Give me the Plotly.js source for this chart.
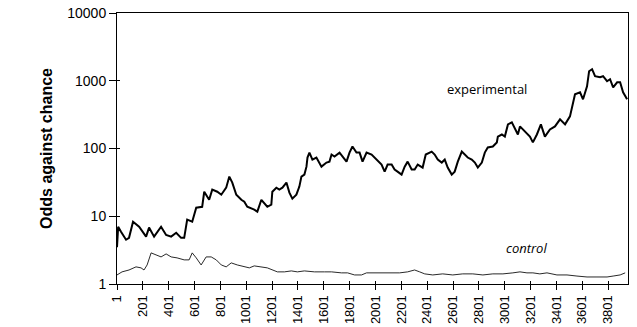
<!DOCTYPE html>
<html>
<head>
<meta charset="utf-8">
<script src="https://cdn.plot.ly/plotly-3.0.1.min.js"></script>
<style>html,body{margin:0;padding:0;background:#fff;}#chart{width:637px;height:327px;}</style>
</head>
<body>
<div id="chart"></div>
<script>
// Experimental series: trial number and odds against chance
const expTrials = [1,10,32,71,94,125,172,226,249,288,342,381,420,459,497,521,544,583,614,660,676,714,738,777,808,846,870,893,924,963,986,1009,1063,1087,1118,1141,1164,1195,1203,1234,1257,1281,1312,1335,1358,1389,1412,1428,1451,1467,1475,1490,1513,1544,1583,1622,1645,1661,1684,1723,1746,1777,1800,1823,1854,1878,1901,1932,1971,2010,2048,2072,2095,2126,2149,2172,2203,2227,2250,2281,2304,2328,2366,2390,2436,2459,2483,2514,2537,2560,2591,2614,2638,2669,2692,2715,2746,2770,2793,2824,2847,2870,2909,2940,2948,2979,3002,3026,3056,3080,3103,3119,3157,3180,3196,3219,3250,3281,3312,3351,3390,3429,3468,3506,3522,3545,3584,3607,3638,3654,3677,3700,3739,3762,3793,3816,3840,3871,3894,3917,3948];
const expOdds = [3.5,7.0,5.9,4.5,4.8,8.3,7.0,5.0,6.8,5.0,7.0,5.3,5.0,5.7,4.8,4.8,8.9,8.3,13.4,13.8,23,17.5,24.7,23,20.8,26.4,38.5,31.4,20.8,17.5,16.4,13.8,12.5,11.7,17.5,15.8,13.8,14.8,23,26.4,24.7,26.4,31.4,22.3,18.2,20.8,27.4,38.5,41.2,54,73.6,87,68.7,73.6,54,62,64,81.5,76,87,76,64,87,107,87,87,64,87,81.5,68.7,58,45.6,58,58,48.9,45.6,41.2,54,64,48.9,48.9,58,52.3,81.5,90,81.5,68.7,62,68.7,52.3,41.2,45.6,64,90,81.5,73.6,68.7,62,52.3,62,87,103.5,107,123,150,161,150,227,243,191,161,212,180,161,150,123,161,227,150,191,212,269,227,298,405,631,676,532,829,1383,1480,1166,1127,1166,984,1052,801,950,950,676,532];

// Control series
const ctlTrials = [1,40,94,148,187,210,234,265,303,342,381,420,466,521,559,583,614,652,691,730,769,808,846,885,932,986,1025,1063,1118,1164,1242,1296,1350,1397,1451,1529,1606,1661,1738,1785,1839,1893,1932,1979,2033,2110,2188,2250,2304,2343,2382,2444,2521,2599,2676,2754,2832,2909,2987,3064,3119,3173,3219,3273,3328,3405,3483,3560,3638,3715,3793,3840,3894,3933];
const ctlOdds = [1.36,1.51,1.61,1.79,1.73,1.61,1.91,2.88,2.69,2.51,2.78,2.51,2.43,2.27,2.27,2.88,2.43,1.91,2.51,2.51,2.27,1.91,1.79,2.05,1.91,1.79,1.73,1.85,1.79,1.73,1.51,1.51,1.56,1.51,1.56,1.51,1.51,1.51,1.46,1.46,1.36,1.36,1.46,1.46,1.46,1.46,1.46,1.51,1.61,1.51,1.41,1.36,1.41,1.36,1.41,1.41,1.36,1.41,1.41,1.46,1.51,1.46,1.46,1.41,1.46,1.36,1.36,1.31,1.27,1.27,1.27,1.31,1.36,1.46];

// Axis ticks
const xTickVals = [1,201,401,601,801,1001,1201,1401,1601,1801,2001,2201,2401,2601,2801,3001,3201,3401,3601,3801];
const yTickVals = [1,10,100,1000,10000];
const yTickText = ["1","10","100","1000","10000"];

const traces = [
  {x: expTrials, y: expOdds, type: 'scatter', mode: 'lines', line: {color: '#000', width: 2}, hoverinfo: 'skip'},
  {x: ctlTrials, y: ctlOdds, type: 'scatter', mode: 'lines', line: {color: '#111', width: 0.9}, hoverinfo: 'skip'},
  // invisible trace on overlay axes so inside tick marks are drawn
  {x: [xTickVals[0]], y: [yTickVals[0]], xaxis: 'x2', yaxis: 'y2', type: 'scatter', mode: 'markers', marker: {opacity: 0}, hoverinfo: 'skip'}
];

const xRange = [1, 3955];
const yRange = [0, 4];

const layout = {
  width: 637, height: 327,
  margin: {l: 117, r: 9, t: 13, b: 43},
  paper_bgcolor: '#fff', plot_bgcolor: '#fff',
  showlegend: false,
  font: {family: 'Liberation Sans, Arial, sans-serif', color: '#000'},
  xaxis: {
    range: xRange, tickmode: 'array', tickvals: xTickVals, ticktext: xTickVals.map(String),
    tickangle: -90, tickfont: {size: 13, family: 'Liberation Sans, Arial, sans-serif'},
    ticks: 'outside', ticklen: 5, tickcolor: '#000',
    showline: true, linecolor: '#000', linewidth: 1, mirror: true,
    showgrid: false, zeroline: false
  },
  yaxis: {
    type: 'log', range: yRange, tickmode: 'array', tickvals: yTickVals, ticktext: yTickText,
    tickfont: {size: 14, family: 'Liberation Sans, Arial, sans-serif'},
    ticks: 'outside', ticklen: 7, tickcolor: '#000',
    showline: true, linecolor: '#000', linewidth: 1, mirror: true,
    showgrid: false, zeroline: false,
    title: {text: '<b>Odds against chance</b>', font: {size: 16, family: 'Liberation Sans, Arial, sans-serif'}, standoff: 10}
  },
  xaxis2: {
    overlaying: 'x', range: xRange, tickmode: 'array', tickvals: xTickVals, showticklabels: false,
    ticks: 'inside', ticklen: 3, tickcolor: '#000', showline: false, showgrid: false, zeroline: false
  },
  yaxis2: {
    overlaying: 'y', type: 'log', range: yRange, tickmode: 'array', tickvals: yTickVals, showticklabels: false,
    ticks: 'inside', ticklen: 3, tickcolor: '#000', showline: false, showgrid: false, zeroline: false
  },
  annotations: [
    {x: 2863, y: Math.log10(750), xref: 'x', yref: 'y', text: 'experimental', showarrow: false, font: {size: 13, family: 'Open Sans, sans-serif'}},
    {x: 3173, y: Math.log10(3.4), xref: 'x', yref: 'y', text: '<i>control</i>', showarrow: false, font: {size: 13, family: 'Open Sans, sans-serif'}}
  ]
};

Plotly.newPlot('chart', traces, layout, {staticPlot: true, displayModeBar: false});
</script>
</body>
</html>
